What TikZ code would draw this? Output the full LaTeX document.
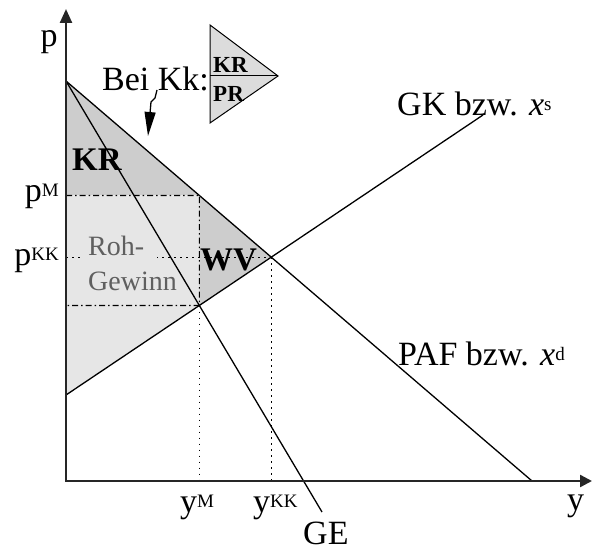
\documentclass[tikz,border=0pt]{standalone}
\usepackage{fontspec}
\setmainfont{Liberation Serif}
\usetikzlibrary{arrows.meta}
\definecolor{darkfill}{RGB}{205,205,205}
\definecolor{lightfill}{RGB}{230,230,230}
\definecolor{legfill}{RGB}{220,220,220}
\definecolor{rohgray}{RGB}{95,95,95}
\newcommand\fsz[1]{\fontsize{#1}{#1}\selectfont}
\newcommand\mysup[1]{\raisebox{5pt}{\fontsize{19}{19}\selectfont #1}}
\begin{document}
\begin{tikzpicture}[x=1pt,y=-1pt,
  curve/.style={line width=1.3pt, draw=black},
  axisline/.style={line width=2.4pt, draw=black!85, line join=miter},
  dashdot/.style={line width=1.1pt, draw=black, dash pattern=on 6pt off 3pt on 1.5pt off 3pt},
  dots/.style={line width=1.3pt, draw=black, dash pattern=on 1.5pt off 4.5pt},
  lbl/.style={inner sep=0pt, font=\fsz{34}},
  boldlbl/.style={inner sep=0pt, font=\fsz{33}\bfseries},
  leglbl/.style={inner sep=0pt, font=\fsz{23}\bfseries},
  rohlbl/.style={inner sep=0pt, font=\fsz{28}, text=rohgray}
]
\useasboundingbox (0,0) rectangle (592,551);

% key points
\coordinate (O) at (66,481);
\coordinate (Ytop) at (66,9);
\coordinate (Xend) at (592,481);
\coordinate (D0) at (66,81);
\coordinate (D1) at (532,481);
\coordinate (S0) at (66,395);
\coordinate (S1) at (483,115);
\coordinate (G1) at (322,512);
\coordinate (E) at (intersection of D0--D1 and S0--S1);
\coordinate (M) at (intersection of D0--G1 and S0--S1);
\coordinate (Mtop) at (M |- D0);
\coordinate (PM) at (intersection of D0--D1 and M--Mtop);
\coordinate (PMax) at (O |- PM);
\coordinate (PKax) at (O |- E);
\coordinate (Max) at (O |- M);
\coordinate (yMax) at (M |- O);
\coordinate (yKax) at (E |- O);

% areas
\fill[darkfill] (D0) -- (PM) -- (PMax) -- cycle;
\fill[lightfill] (PMax) -- (PM) -- (M) -- (S0) -- cycle;
\fill[darkfill] (PM) -- (E) -- (M) -- cycle;

% helper lines
\draw[dashdot] (PMax) -- (PM) -- (M) -- (Max);
\draw[dots] (PKax) -- (E);
\draw[dots] (M) -- (yMax);
\draw[dots] (E) -- (yKax);
\fill[lightfill] (80,238) rectangle (157,263);

% curves
\draw[curve] (D0) -- (D1);
\draw[curve] (S0) -- (S1);
\draw[curve] (D0) -- (G1);

% axes
\draw[axisline, {Triangle[length=14pt,width=12pt]}-{Triangle[length=12pt,width=12pt]}] (Ytop) -- (O) -- (Xend);

% legend triangle
\coordinate (T1) at (210,25);
\coordinate (T2) at (278,76);
\coordinate (T3) at (210,123);
\coordinate (Tm) at (210,76);
\filldraw[fill=legfill, draw=black, line width=1pt] (T1) -- (T2) -- (T3) -- cycle;
\draw[line width=1pt] (Tm) -- (T2);
\node[leglbl, anchor=base west] (legKR) at (213,73) {KR};
\node[leglbl, anchor=base west] (legPR) at (213,101) {PR};

% labels
\node[lbl, anchor=base] (lp) at (49,47) {p};
\node[lbl, anchor=base west] (lbei) at (102,91) {Bei Kk:};
\coordinate (a0) at (157,90);
\coordinate (a1) at (155,98);
\coordinate (a2) at (151,102);
\coordinate (a3) at (148,136);
\draw[curve, -{Triangle[length=24pt,width=11pt]}] (a0) -- (a1) -- (a2) -- (a3);

\node[boldlbl, anchor=base west] (lKR) at (72,170) {KR};
\node[lbl, anchor=base east] (lpM) at (59,201) {p\mysup{M}};
\node[lbl, anchor=base east] (lpKK) at (59,265) {p\mysup{KK}};
\node[rohlbl, anchor=base west] (lroh) at (88,255) {Roh-};
\node[rohlbl, anchor=base west] (lgew) at (88,290) {Gewinn};
\node[boldlbl, anchor=base west] (lWV) at (200,270) {WV};
\node[lbl, anchor=base west] (lGK) at (397,115) {GK bzw. \textit{x}\mysup{s}};
\node[lbl, anchor=base west] (lPAF) at (398,365) {PAF bzw. \textit{x}\mysup{d}};
\node[lbl, anchor=base west] (lyM) at (180,512) {y\mysup{M}};
\node[lbl, anchor=base west] (lyKK) at (253,512) {y\mysup{KK}};
\node[lbl, anchor=base west] (ly) at (567,510) {y};
\node[lbl, anchor=base west] (lGE) at (303,544) {GE};
\end{tikzpicture}
\end{document}
